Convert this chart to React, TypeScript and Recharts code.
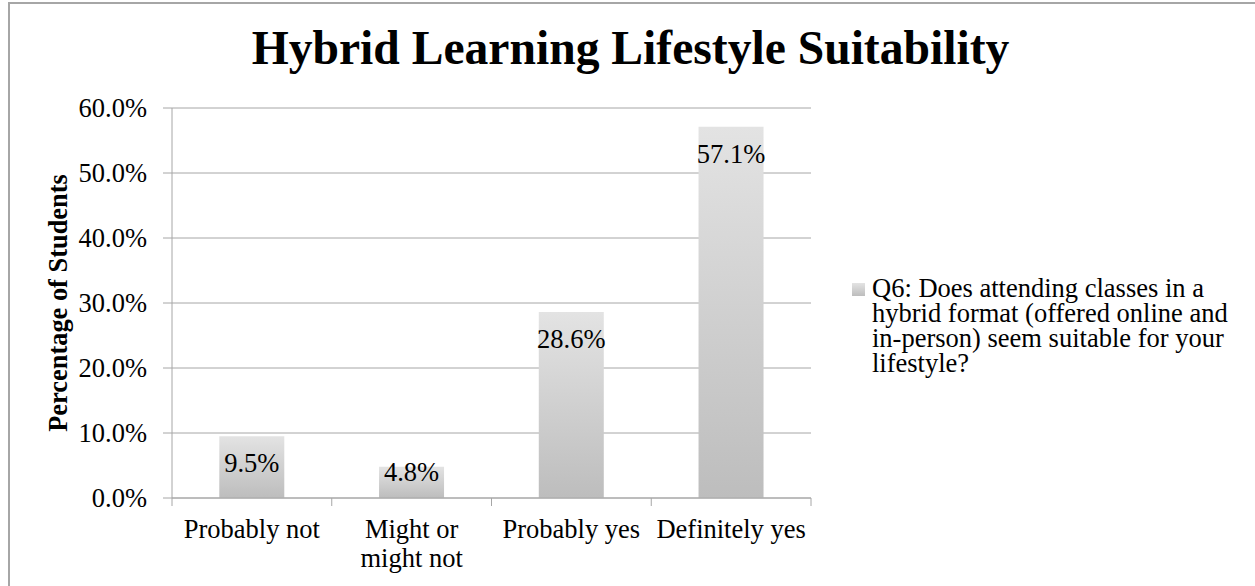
import { Bar, BarChart, CartesianGrid, LabelList, XAxis, YAxis } from "recharts";

const categories = ["Probably not", "Might or might not", "Probably yes", "Definitely yes"];
const shares = [9.5, 4.8, 28.6, 57.1];
const yTicks = [0, 10, 20, 30, 40, 50, 60];
const seriesName =
	"Q6: Does attending classes in a hybrid format (offered online and in-person) seem suitable for your lifestyle?";
const chartTitle = "Hybrid Learning Lifestyle Suitability";
const yTitle = "Percentage of Students";

const FONT = '"Liberation Serif", "Times New Roman", serif';
const LINE = "#a6a6a6";
const TEXT_SIZE = 26.5;
const W = 1255;
const H = 586;
const PLOT_LEFT = 172;
const PLOT_RIGHT = 811;
const BAND = (PLOT_RIGHT - PLOT_LEFT) / categories.length;

const data = categories.map((name, i) => ({ name, value: shares[i] }));

const pct = (v: number) => `${v.toFixed(1)}%`;

// long labels break in the middle, the way the original wraps them
function splitLabel(text: string) {
	const words = text.split(" ");
	if (words.length < 4) return [text];
	const mid = Math.ceil(words.length / 2);
	return [words.slice(0, mid).join(" "), words.slice(mid).join(" ")];
}

function CategoryTick(props: any) {
	const { x, y, payload, index } = props;
	const lines = splitLabel(payload.value);
	const half = BAND / 2;
	return (
		<g>
			<line x1={x - half} x2={x - half} y1={y} y2={y + 8} stroke={LINE} />
			{index === categories.length - 1 && (
				<line x1={x + half} x2={x + half} y1={y} y2={y + 8} stroke={LINE} />
			)}
			{lines.map((l, i) => (
				<text
					key={l}
					x={x}
					y={y + 40 + i * 29}
					textAnchor="middle"
					fontFamily={FONT}
					fontSize={TEXT_SIZE}
					fill="#000"
				>
					{l}
				</text>
			))}
		</g>
	);
}

function ValueLabel(props: any) {
	const { x, y, width, height, value } = props;
	const baseline = Math.min(y + 36, y + height - 17);
	return (
		<text
			x={x + width / 2}
			y={baseline}
			textAnchor="middle"
			fontFamily={FONT}
			fontSize={TEXT_SIZE}
			fill="#000"
		>
			{pct(value)}
		</text>
	);
}

function YTitle(props: any) {
	const vb = props.viewBox;
	const cy = vb.y + vb.height / 2;
	return (
		<text
			x={67}
			y={cy}
			transform={`rotate(-90 67 ${cy})`}
			textAnchor="middle"
			fontFamily={FONT}
			fontSize={26.4}
			fontWeight="bold"
			fill="#000"
		>
			{yTitle}
		</text>
	);
}

export default function App() {
	return (
		<div
			style={{
				position: "absolute",
				left: 0,
				top: 0,
				width: W,
				height: H,
				overflow: "hidden",
				background: "#fff",
				fontFamily: FONT,
			}}
		>
			<div
				style={{
					position: "absolute",
					left: 8,
					top: 2,
					width: W + 20,
					height: H + 20,
					border: "2px solid #a6a6a6",
				}}
			/>
			<div
				style={{
					position: "absolute",
					left: 3,
					top: 24,
					width: W,
					textAlign: "center",
					fontSize: 47.6,
					lineHeight: "48px",
					fontWeight: "bold",
					color: "#000",
				}}
			>
				{chartTitle}
			</div>
			<BarChart
				width={W}
				height={H}
				data={data}
				margin={{ top: 108, right: W - PLOT_RIGHT, bottom: 0, left: 0 }}
				barCategoryGap="29.6%"
				style={{ position: "absolute", left: 0, top: 0 }}
			>
				<defs>
					<linearGradient id="barFill" x1="0" y1="0" x2="0" y2="1">
						<stop offset="0%" stopColor="#e3e3e3" />
						<stop offset="100%" stopColor="#bdbdbd" />
					</linearGradient>
				</defs>
				<CartesianGrid vertical={false} stroke={LINE} />
				<XAxis
					dataKey="name"
					height={88}
					axisLine={{ stroke: LINE }}
					tickLine={false}
					tickSize={0}
					tickMargin={0}
					interval={0}
					tick={<CategoryTick />}
				/>
				<YAxis
					width={PLOT_LEFT}
					domain={[0, 60]}
					ticks={yTicks}
					tickFormatter={pct}
					axisLine={{ stroke: LINE }}
					tickLine={{ stroke: LINE }}
					tickSize={9}
					tickMargin={16}
					tick={{ fill: "#000", fontSize: TEXT_SIZE, fontFamily: FONT }}
					label={{ content: <YTitle /> }}
				/>
				<Bar dataKey="value" fill="url(#barFill)" isAnimationActive={false}>
					<LabelList dataKey="value" content={<ValueLabel />} />
				</Bar>
			</BarChart>
			<div
				style={{
					position: "absolute",
					left: 852,
					top: 283,
					width: 13,
					height: 13,
					background: "linear-gradient(#e3e3e3, #bdbdbd)",
				}}
			/>
			<div
				style={{
					position: "absolute",
					left: 872,
					top: 275.5,
					width: 366,
					fontSize: TEXT_SIZE,
					lineHeight: "25px",
					color: "#000",
				}}
			>
				{seriesName}
			</div>
		</div>
	);
}
